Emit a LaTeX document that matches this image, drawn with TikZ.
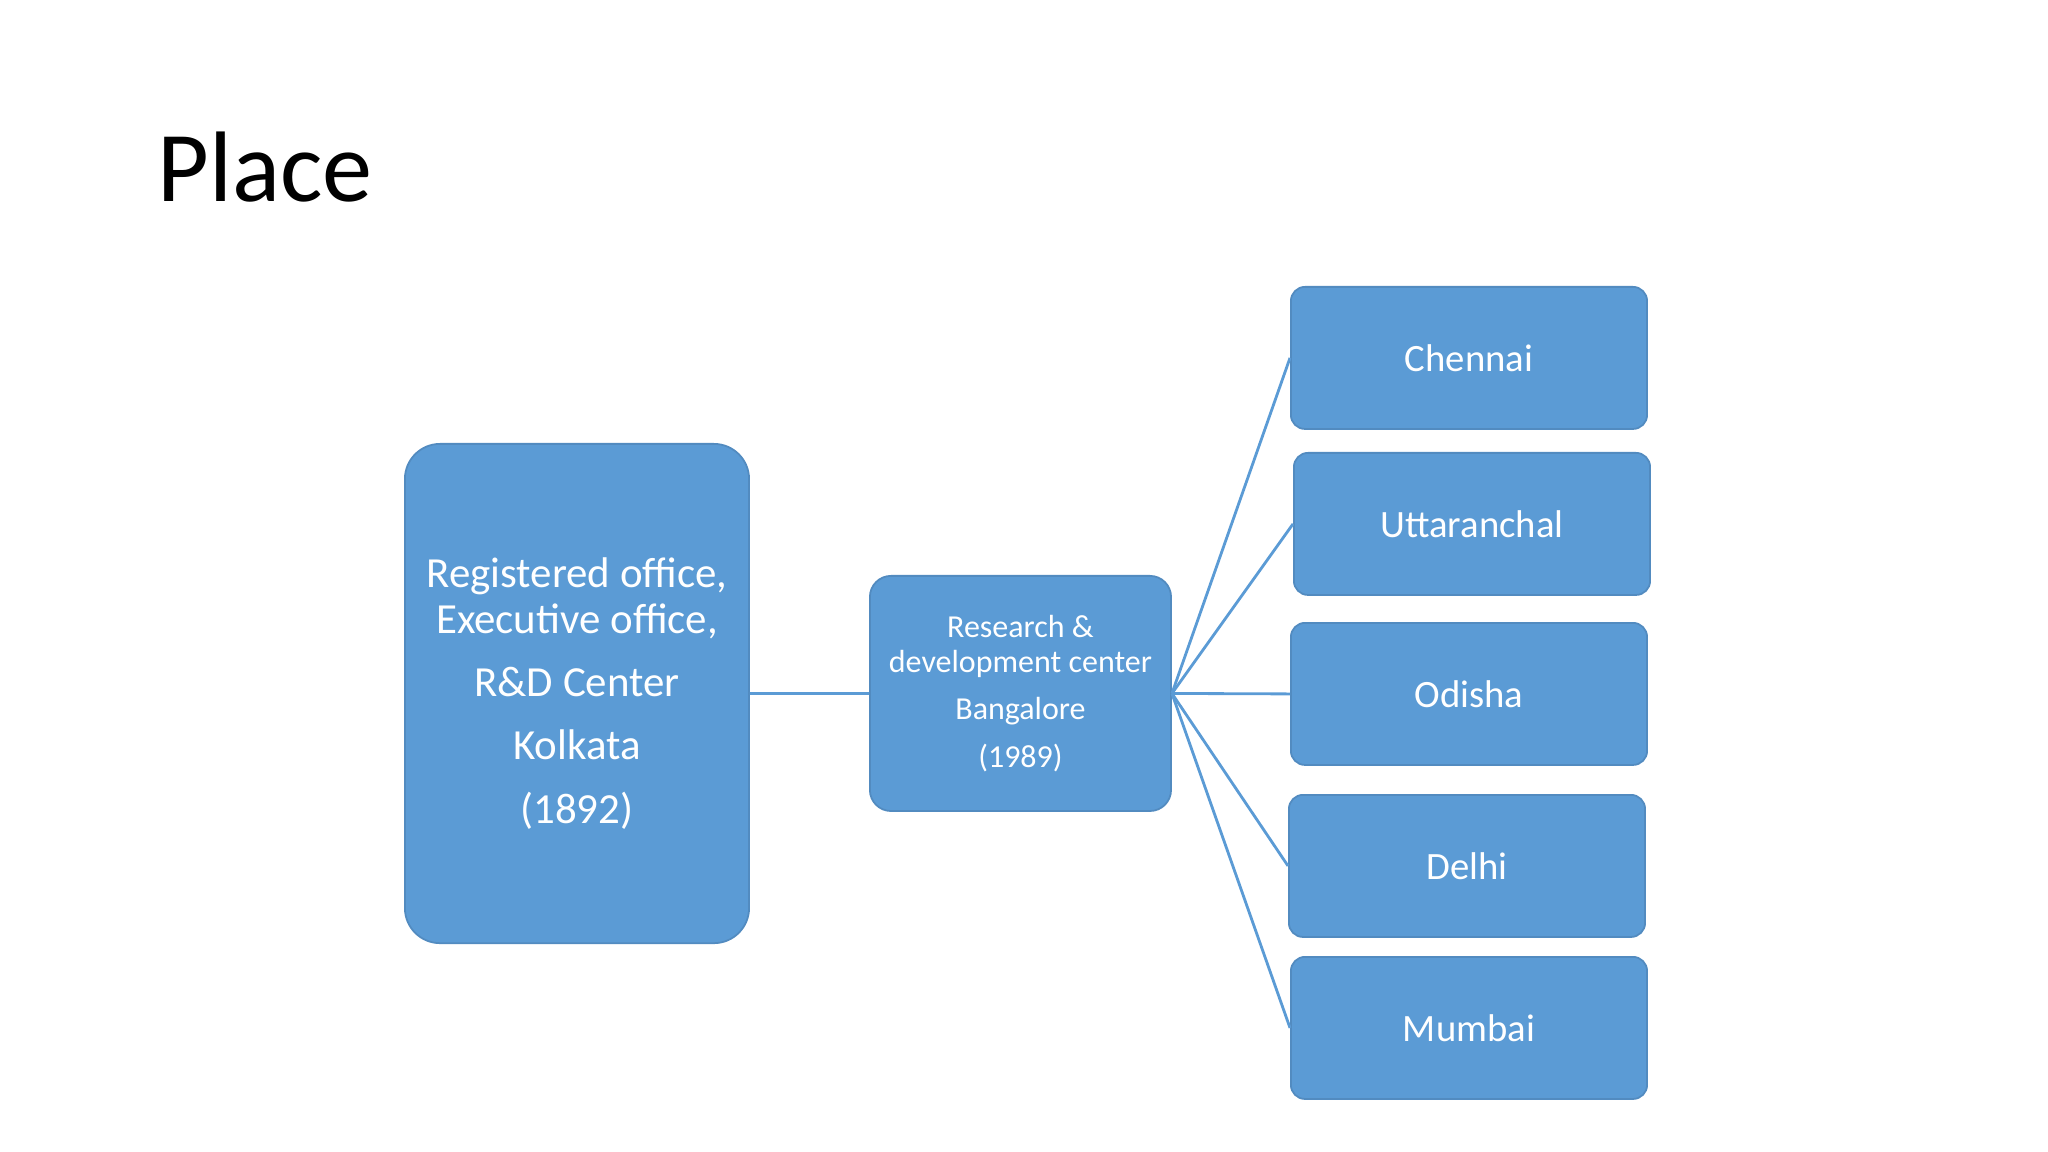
\documentclass[tikz,border=0pt]{standalone}
\usepackage{fontspec}
\setmainfont{Carlito}
\definecolor{box}{HTML}{5B9BD5}
\begin{document}
\begin{tikzpicture}[x=0.01cm,y=-0.01cm,
  b/.style={draw=box!90!black,line width=0.5pt,fill=box,rounded corners=6pt,text=white,inner sep=0pt},
  ln/.style={draw=box,line width=0.8pt}]
\useasboundingbox (0,0) rectangle (2048,1152);
\node[anchor=base west,font=\fontsize{28.5}{32}\selectfont,inner sep=0pt] (t) at (157,202) {Place};
\node[b,rounded corners=10pt,minimum width=3.44cm,minimum height=4.99cm,anchor=north west,font=\fontsize{12.2}{13}\selectfont,align=center] (L) at (404,443)
  {Registered office,\\Executive office,\\[5pt]R\&D Center\\[5pt]Kolkata\\[5pt](1892)};
\node[b,minimum width=3.01cm,minimum height=2.35cm,anchor=north west,font=\fontsize{9.1}{10}\selectfont,align=center] (M) at (869,575)
  {Research \&\\development center\\[3.5pt]Bangalore\\[3.5pt](1989)};
\tikzset{r/.style={b,rounded corners=4pt,minimum width=3.56cm,minimum height=1.42cm,anchor=north west,font=\fontsize{11}{13}\selectfont}}
\node[r] (c) at (1290,286) {Chennai};
\node[r] (u) at (1293,452) {Uttaranchal};
\node[r] (o) at (1290,622) {Odisha};
\node[r] (d) at (1288,794) {Delhi};
\node[r] (m) at (1290,956) {Mumbai};
\draw[ln] (L.east) -- (M.west);
\foreach \n in {c,u,o,d,m} \draw[ln] (M.east) -- (\n.west);
\end{tikzpicture}
\end{document}
